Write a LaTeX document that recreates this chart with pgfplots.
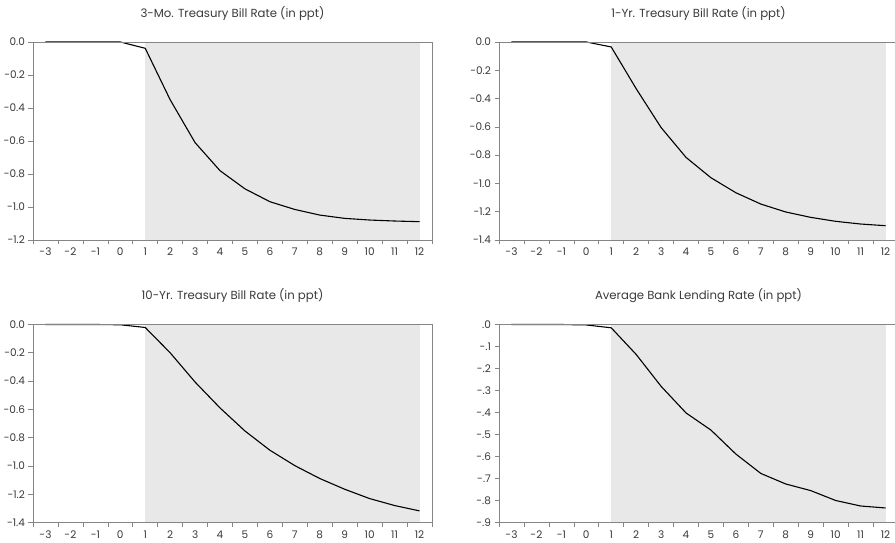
\documentclass[border=0pt]{standalone}
\usepackage{fontspec}
\setmainfont{Poppins}
\usepackage{pgfplots}
\pgfplotsset{compat=1.18}
\definecolor{shade}{HTML}{E8E8E8}
\definecolor{framec}{HTML}{858585}
\definecolor{txt}{HTML}{3A3A3A}

\pgfplotsset{
 panel/.style={
  scale only axis, width=399pt, height=198pt, anchor=south west,
  axis on top,
  xmin=-3.5, xmax=12.5,
  xtick={-3.5,-2.5,...,12.5},
  x tick label as interval,
  xticklabels={-3,-2,-1,0,1,2,3,4,5,6,7,8,9,10,11,12},
  xtick pos=bottom, ytick pos=left,
  tick align=outside,
  major tick length=4.5pt,
  tick style={framec, line width=0.6pt},
  axis line style={framec, line width=0.7pt},
  ticklabel style={font=\fontsize{10.5}{12}\selectfont, text=txt},
  title style={font=\fontsize{11.7}{13}\selectfont, text=txt, at={(0.5,1)}, anchor=center, yshift=22.5pt},
  clip=false,
 },
 curve/.style={black, line width=1.1pt},
 shadeplot/.style={fill=shade, draw=none},
}

\begin{document}
\begin{tikzpicture}
\useasboundingbox (0pt,0pt) rectangle (895pt,543pt);

% Top-left
\begin{axis}[panel, at={(33pt,303pt)}, ymin=-1.2, ymax=0,
  ytick={0,-0.2,-0.4,-0.6,-0.8,-1.0,-1.2},
  yticklabels={0.0,-0.2,-0.4,-0.6,-0.8,-1.0,-1.2},
  title={3-Mo. Treasury Bill Rate (in ppt)}]
\addplot[shadeplot] coordinates {(1,0) (12,0) (12,-1.2) (1,-1.2)} -- cycle;
\addplot[curve] coordinates {
(-3,0) (-2,0) (-1,0) (0,0) (1,-0.038) (2,-0.35) (3,-0.61) (4,-0.78) (5,-0.89)
(6,-0.968) (7,-1.015) (8,-1.049) (9,-1.069) (10,-1.079) (11,-1.085) (12,-1.089)};
\end{axis}

% Top-right
\begin{axis}[panel, at={(499pt,303pt)}, ymin=-1.4, ymax=0,
  ytick={0,-0.2,-0.4,-0.6,-0.8,-1.0,-1.2,-1.4},
  yticklabels={0.0,-0.2,-0.4,-0.6,-0.8,-1.0,-1.2,-1.4},
  title={1-Yr. Treasury Bill Rate (in ppt)}]
\addplot[shadeplot] coordinates {(1,0) (12,0) (12,-1.4) (1,-1.4)} -- cycle;
\addplot[curve] coordinates {
(-3,0) (-2,0) (-1,0) (0,0) (1,-0.035) (2,-0.33) (3,-0.605) (4,-0.816) (5,-0.96)
(6,-1.066) (7,-1.146) (8,-1.202) (9,-1.24) (10,-1.268) (11,-1.287) (12,-1.299)};
\end{axis}

% Bottom-left
\begin{axis}[panel, at={(33pt,20.5pt)}, ymin=-1.4, ymax=0,
  ytick={0,-0.2,-0.4,-0.6,-0.8,-1.0,-1.2,-1.4},
  yticklabels={0.0,-0.2,-0.4,-0.6,-0.8,-1.0,-1.2,-1.4},
  title={10-Yr. Treasury Bill Rate (in ppt)}]
\addplot[shadeplot] coordinates {(1,0) (12,0) (12,-1.4) (1,-1.4)} -- cycle;
\addplot[curve] coordinates {
(-3,0) (-2,0) (-1,0) (0,-0.002) (1,-0.021) (2,-0.2) (3,-0.407) (4,-0.59) (5,-0.753)
(6,-0.889) (7,-0.998) (8,-1.089) (9,-1.165) (10,-1.231) (11,-1.28) (12,-1.318)};
\end{axis}

% Bottom-right
\begin{axis}[panel, at={(499pt,20.5pt)}, ymin=-0.9, ymax=0,
  ytick={0,-0.1,-0.2,-0.3,-0.4,-0.5,-0.6,-0.7,-0.8,-0.9},
  yticklabels={.0,-.1,-.2,-.3,-.4,-.5,-.6,-.7,-.8,-.9},
  title={Average Bank Lending Rate (in ppt)}]
\addplot[shadeplot] coordinates {(1,0) (12,0) (12,-0.9) (1,-0.9)} -- cycle;
\addplot[curve] coordinates {
(-3,0) (-2,0) (-1,0) (0,-0.002) (1,-0.015) (2,-0.136) (3,-0.281) (4,-0.402) (5,-0.48)
(6,-0.589) (7,-0.677) (8,-0.725) (9,-0.755) (10,-0.8) (11,-0.825) (12,-0.834)};
\end{axis}
\end{tikzpicture}
\end{document}
